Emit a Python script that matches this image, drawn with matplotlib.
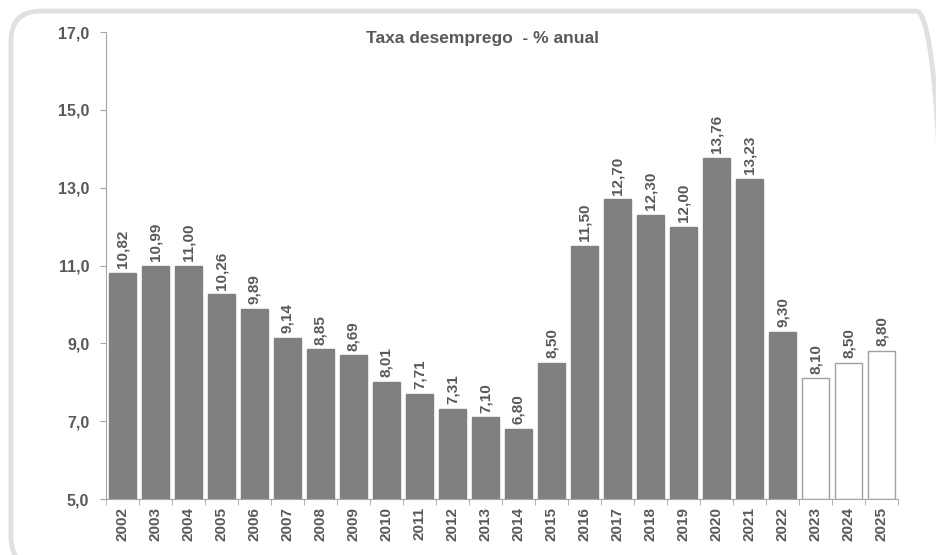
import matplotlib.pyplot as plt
from matplotlib.patches import FancyBboxPatch

plt.rcParams['font.family'] = ['Liberation Sans', 'DejaVu Sans']

# dados
anos = ['2002', '2003', '2004', '2005', '2006', '2007', '2008', '2009', '2010',
        '2011', '2012', '2013', '2014', '2015', '2016', '2017', '2018', '2019',
        '2020', '2021', '2022', '2023', '2024', '2025']
taxa = [10.82, 10.99, 11.00, 10.26, 9.89, 9.14, 8.85, 8.69, 8.01, 7.71, 7.31,
        7.10, 6.80, 8.50, 11.50, 12.70, 12.30, 12.00, 13.76, 13.23, 9.30,
        8.10, 8.50, 8.80]
projecao = ['2023', '2024', '2025']

texto = '#595959'
eixo = '#a6a6a6'

fig = plt.figure(figsize=(9.37, 5.55), dpi=100)

# moldura arredondada (sai pela direita e por baixo)
moldura = FancyBboxPatch((11, -12), 935, 556,
                         boxstyle='round,pad=0,rounding_size=30',
                         transform=None, fill=False,
                         edgecolor='#e0e0e0', linewidth=3.5, zorder=0)
fig.patches.append(moldura)

ax = fig.add_axes([0.1131, 0.1009, 0.8453, 0.8414])
ax.patch.set_alpha(0)

x = list(range(len(anos)))
cores = ['white' if a in projecao else '#808080' for a in anos]
bordas = ['#a0a0a0' if a in projecao else '#808080' for a in anos]
ax.bar(x, [v - 5 for v in taxa], bottom=5, width=0.8, color=cores,
       edgecolor=bordas, linewidth=1)

for xi, v in zip(x, taxa):
    ax.text(xi, v + 0.12, f'{v:.2f}'.replace('.', ','), rotation=90,
            ha='center', va='bottom', fontsize=11, fontweight='bold',
            color=texto)

ax.set_xlim(-0.5, len(anos) - 0.5)
ax.set_ylim(5, 17)
ax.set_yticks([5, 7, 9, 11, 13, 15, 17])
ax.set_yticklabels([f'{t:.1f}'.replace('.', ',') for t in [5, 7, 9, 11, 13, 15, 17]],
                   fontsize=11.5, fontweight='bold', color=texto)

ax.set_xticks(x)
ax.set_xticklabels(anos, rotation=90, fontsize=11, fontweight='bold', color=texto)
ax.tick_params(axis='x', length=0, pad=6)
ax.set_xticks([i - 0.5 for i in range(len(anos) + 1)], minor=True)
ax.tick_params(axis='x', which='minor', length=4, color=eixo, direction='out')
ax.tick_params(axis='y', length=4, color=eixo, pad=8)

for s in ['top', 'right']:
    ax.spines[s].set_visible(False)
for s in ['left', 'bottom']:
    ax.spines[s].set_color(eixo)

fig.text(483 / 937, 1 - 38 / 555, 'Taxa desemprego  - % anual', ha='center',
         va='center', fontsize=12.5, fontweight='bold', color=texto)

fig.savefig('out.png', dpi=100)
